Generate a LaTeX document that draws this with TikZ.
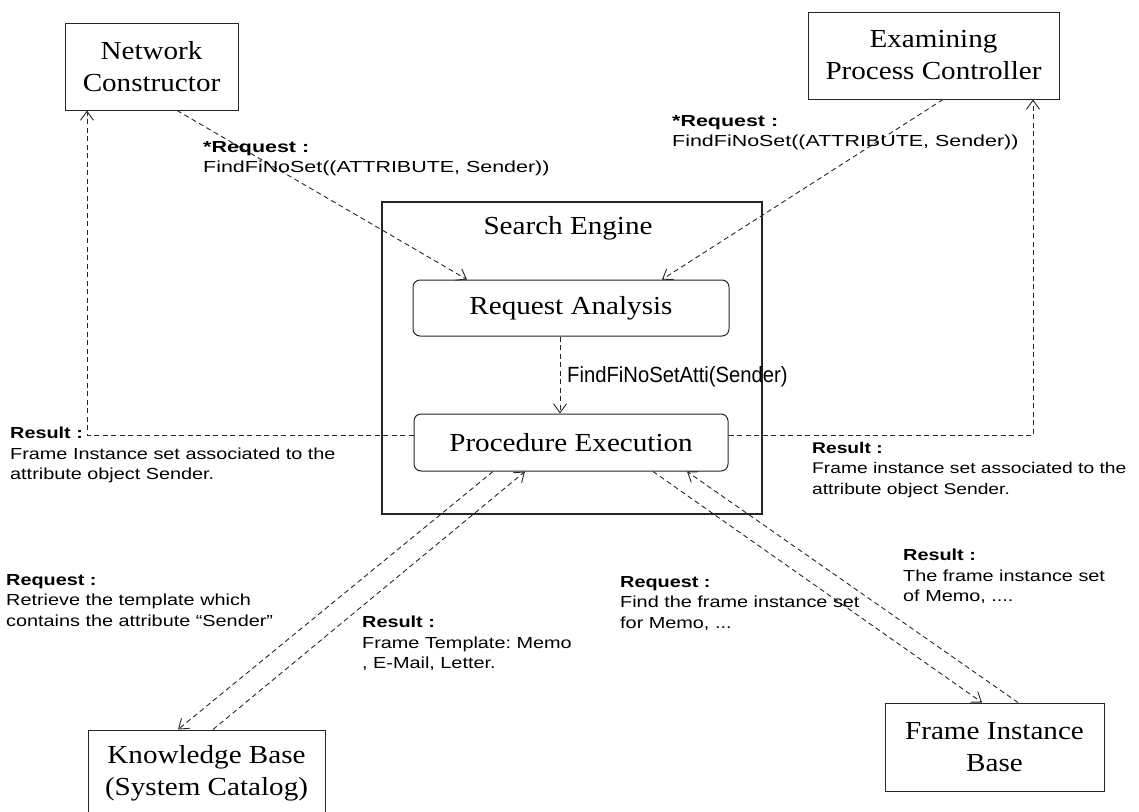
\documentclass[tikz,border=0pt]{standalone}
\usepackage{fontspec}
\setmainfont{Liberation Serif}
\newfontfamily\boxfont[FakeStretch=1.12]{Liberation Serif}
\newfontfamily\lblfont[FakeStretch=1.24]{Liberation Sans}
\newfontfamily\widelblfont[FakeStretch=1.34]{Liberation Sans}
\newfontfamily\callfont[FakeStretch=0.92]{Liberation Sans}
\usetikzlibrary{arrows.meta,calc}
\frenchspacing

\begin{document}
\begin{tikzpicture}[x=1pt,y=-1pt,
  block/.style={draw=black!85, line width=1pt, inner sep=0pt, align=center,
    font=\boxfont\fontsize{26}{32}\selectfont},
  procbox/.style={block, rounded corners=7pt},
  msg/.style={draw=black!85, line width=0.9pt, dash pattern=on 5pt off 3.5pt,
    -{Straight Barb[length=9pt,width=13pt,line width=0.9pt]}},
  note/.style={anchor=north west, inner sep=0pt, align=left,
    font=\lblfont\fontsize{16}{20.5}\selectfont},
  widenote/.style={note, font=\widelblfont\fontsize{16}{20}\selectfont},
]
\useasboundingbox (0,0) rectangle (1139,811);

% components
\node[block, minimum width=173pt, minimum height=87pt] (nc) at (151.5,66.5) {Network\\Constructor};
\node[block, minimum width=251pt, minimum height=87pt] (epc) at (933.5,55.5) {Examining\\Process Controller};
\node[block, line width=1.2pt, minimum width=380pt, minimum height=312pt] (se) at (572,358) {};
\node[font=\boxfont\fontsize{26}{32}\selectfont, inner sep=0pt] (setitle) at (568,228) {Search Engine};
\node[procbox, minimum width=316pt, minimum height=56pt] (ra) at (571,308) {Request Analysis};
\node[procbox, minimum width=314pt, minimum height=57pt] (pe) at (571,442.5) {Procedure Execution};
\node[block, minimum width=237pt, minimum height=86pt] (kb) at (206.5,773) {Knowledge Base\\(System Catalog)};
\node[block, minimum width=219pt, minimum height=88pt] (fib) at (994.5,747) {Frame Instance\\Base};

% requests into the search engine
\draw[msg] (177,0 |- nc.south) -- (467,0 |- ra.north);
\draw[msg] (943,0 |- epc.south) -- (662,0 |- ra.north);
\draw[msg] (560,0 |- ra.south) -- (560,0 |- pe.north);
\node[font=\callfont\fontsize{22}{26}\selectfont, anchor=west, inner sep=0pt] (call) at (567,377) {FindFiNoSetAtti(Sender)};

% results back to the callers
\draw[msg] (pe.west |- 0,435) -| (87,0 |- nc.south);
\draw[msg] (pe.east |- 0,435) -| (1033,0 |- epc.south);

% knowledge base exchange
\draw[msg] (493,0 |- pe.south) -- (178,0 |- kb.north);
\draw[msg] (213,0 |- kb.north) -- (525,0 |- pe.south);

% frame instance base exchange
\draw[msg] (653,0 |- pe.south) -- (982,0 |- fib.north);
\draw[msg] (1018,0 |- fib.north) -- (687,0 |- pe.south);

% message texts
\node[widenote] (reqnc) at (203,141) {\textbf{*Request :}\\FindFiNoSet((ATTRIBUTE, Sender))};
\node[widenote] (reqepc) at (672,115) {\textbf{*Request :}\\FindFiNoSet((ATTRIBUTE, Sender))};
\node[note] (resnc) at (10,427) {\textbf{Result :}\\Frame Instance set associated to the\\attribute object Sender.};
\node[note, font=\lblfont\fontsize{15.5}{20.5}\selectfont] (resepc) at (812,442) {\textbf{Result :}\\Frame instance set associated to the\\attribute object Sender.};
\node[note] (reqkb) at (6,574) {\textbf{Request :}\\Retrieve the template which\\contains the attribute “Sender”};
\node[note] (reskb) at (362,616) {\textbf{Result :}\\Frame Template: Memo\\, E-Mail, Letter.};
\node[note] (reqfib) at (620,576) {\textbf{Request :}\\Find the frame instance set\\for Memo, ...};
\node[note] (resfib) at (903,549) {\textbf{Result :}\\The frame instance set\\of Memo, ....};
\end{tikzpicture}
\end{document}
